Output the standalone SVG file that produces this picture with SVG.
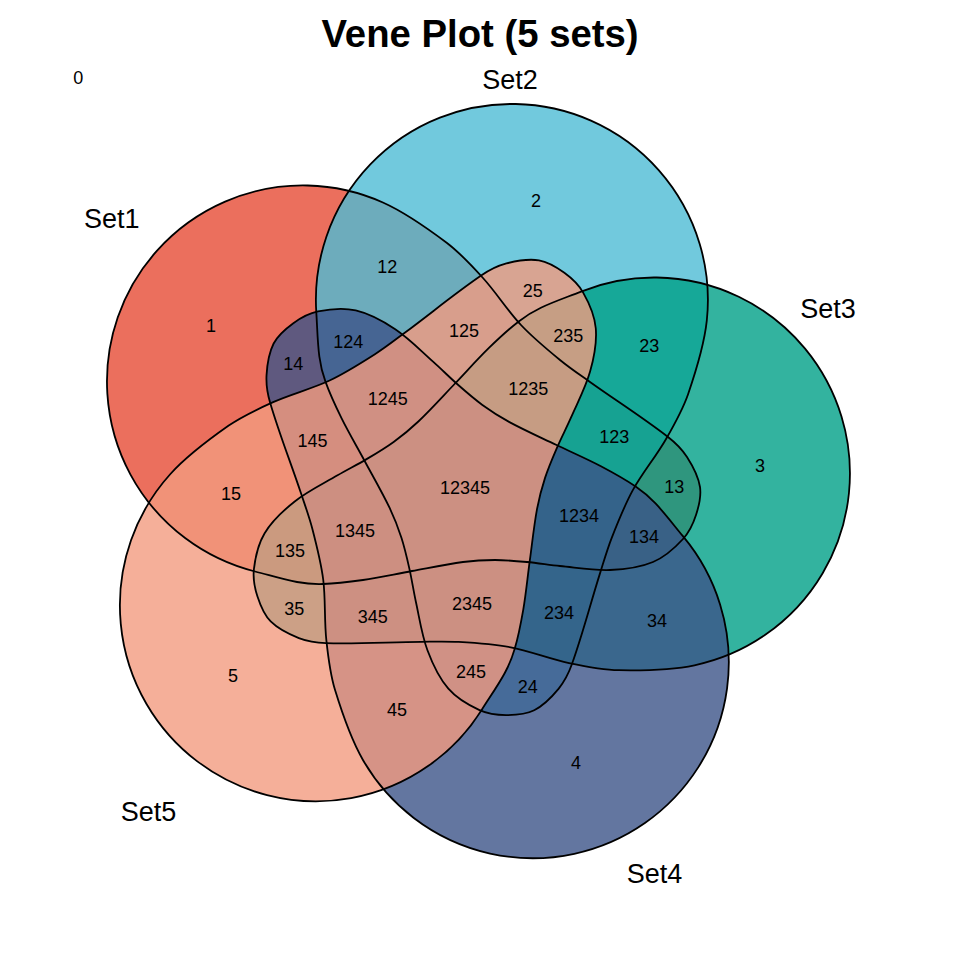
<svg xmlns="http://www.w3.org/2000/svg" width="960" height="960" viewBox="0 0 960 960">
<style>
.fill{fill-opacity:0.8;stroke:none}
.edge{fill:none;stroke:#000;stroke-width:1.8}
text{font-family:'Liberation Sans',Arial,Helvetica,sans-serif;fill:#000}
.cnt{font-size:18px;text-anchor:middle}
.setlab{font-size:27px;text-anchor:middle}
.title{font-size:38.3px;font-weight:bold;text-anchor:middle}
</style>
<defs>
<path id="shape" d="M382.9 202.5 C406 212.8 426.8 227.8 447 243 C460.3 253.1 471.8 265.6 483 278 C496.5 292.9 507.3 310.3 521 325 C533 337.8 546.5 348.9 560 360 C569.6 367.9 579.9 374.8 590 382 C615.9 400.5 642.8 417.5 668 437 C675.3 442.6 682 449.3 687 457 C692.9 466.2 698.3 476.2 700 487 C701.4 496.3 698.9 506.1 696 515 C693.2 523.7 689.1 532.3 683 539 C674.5 548.3 664.6 557.1 653 562 C639.6 567.7 624.6 569.4 610 570 C593.3 570.7 576.6 567.6 560 566 C549.1 564.9 537.9 563 527 562 C516.4 561 505.7 560 495 560 C484.3 560 473.6 560.6 463 562 C445.8 564.3 429 567.9 412 571 C395.7 573.9 379.4 577.6 363 580 C349.7 581.9 336.4 583.6 323 584 C314.3 584.3 305.6 583.6 297 582 C282.8 579.4 269 575 255 571.5 A196 196 0 1 1 382.9 202.5 Z"/>
</defs>
<rect width="960" height="960" fill="#fff"/>
<g id="set1"><use href="#shape" class="fill" fill="#E64B35"/></g>
<g id="set2"><use href="#shape" class="fill" fill="#4DBBD5" transform="rotate(72 463.5 484.5)"/></g>
<g id="set3"><use href="#shape" class="fill" fill="#00A087" transform="rotate(144 463.5 484.5)"/></g>
<g id="set4"><use href="#shape" class="fill" fill="#3C5488" transform="rotate(216 463.5 484.5)"/></g>
<g id="set5"><use href="#shape" class="fill" fill="#F39B7F" transform="rotate(288 463.5 484.5)"/></g>
<g id="outlines">
<use href="#shape" class="edge"/>
<use href="#shape" class="edge" transform="rotate(72 463.5 484.5)"/>
<use href="#shape" class="edge" transform="rotate(144 463.5 484.5)"/>
<use href="#shape" class="edge" transform="rotate(216 463.5 484.5)"/>
<use href="#shape" class="edge" transform="rotate(288 463.5 484.5)"/>
</g>
<g id="set-labels">
<text class="setlab" x="111.7" y="228.3">Set1</text>
<text class="setlab" x="510" y="89">Set2</text>
<text class="setlab" x="828" y="318">Set3</text>
<text class="setlab" x="654.5" y="883">Set4</text>
<text class="setlab" x="148.5" y="821">Set5</text>
</g>
<g id="counts">
<text class="cnt" x="78.3" y="84.3">0</text>
<text class="cnt" x="211" y="331.6">1</text>
<text class="cnt" x="536" y="206.6">2</text>
<text class="cnt" x="760" y="471.6">3</text>
<text class="cnt" x="576" y="768.6">4</text>
<text class="cnt" x="233" y="681.6">5</text>
<text class="cnt" x="387.3" y="273.3">12</text>
<text class="cnt" x="674.3" y="492.6">13</text>
<text class="cnt" x="293.3" y="369.6">14</text>
<text class="cnt" x="231" y="499.6">15</text>
<text class="cnt" x="649.3" y="352.3">23</text>
<text class="cnt" x="527.7" y="693.3">24</text>
<text class="cnt" x="532.7" y="297">25</text>
<text class="cnt" x="657" y="626.6">34</text>
<text class="cnt" x="294.3" y="614.9">35</text>
<text class="cnt" x="397" y="715.6">45</text>
<text class="cnt" x="614.3" y="442.6">123</text>
<text class="cnt" x="348.3" y="348.3">124</text>
<text class="cnt" x="464" y="336.6">125</text>
<text class="cnt" x="644" y="543.3">134</text>
<text class="cnt" x="290" y="556.6">135</text>
<text class="cnt" x="312.5" y="446.6">145</text>
<text class="cnt" x="559" y="619.3">234</text>
<text class="cnt" x="568.3" y="341.6">235</text>
<text class="cnt" x="471" y="677.6">245</text>
<text class="cnt" x="372.7" y="622.6">345</text>
<text class="cnt" x="579" y="521.6">1234</text>
<text class="cnt" x="528.3" y="394.6">1235</text>
<text class="cnt" x="387.7" y="404.9">1245</text>
<text class="cnt" x="355" y="537.3">1345</text>
<text class="cnt" x="472" y="609.9">2345</text>
<text class="cnt" x="465" y="493.6">12345</text>
</g>
<text class="title" x="480" y="47">Vene Plot (5 sets)</text>
</svg>
